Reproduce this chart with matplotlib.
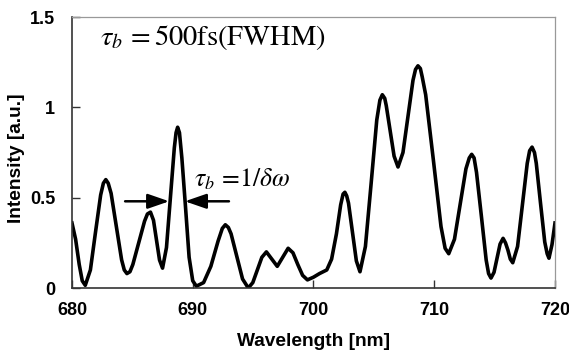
import matplotlib
matplotlib.use("Agg")
import matplotlib.pyplot as plt

plt.rcParams['mathtext.fontset'] = 'stix'

wavelength = [
    680.0, 680.3, 680.6, 680.85, 681.1,
    681.525, 681.95, 682.375, 682.6, 682.8, 683.0, 683.24, 683.675, 684.11, 684.33, 684.55,
    684.8, 685.04, 685.525, 686.01, 686.25, 686.5, 686.75, 687.0, 687.25, 687.5,
    687.825, 688.15, 688.475, 688.62, 688.75, 688.9, 689.1, 689.4, 689.7, 690.0, 690.3,
    690.9, 691.5, 692.1, 692.45, 692.7, 692.95, 693.175, 693.65, 694.125, 694.6,
    694.975, 695.35, 695.725, 696.1, 696.55, 697.0, 697.45, 697.9, 698.3, 698.7, 699.1, 699.5,
    700.0, 700.5, 701.1, 701.5, 701.9, 702.25, 702.45, 702.6, 702.75, 702.9, 703.225, 703.55, 703.85,
    704.3, 704.775, 705.24, 705.5, 705.7, 705.9, 706.025, 706.35, 706.675, 707.0,
    707.41, 707.825, 708.24, 708.45, 708.65, 708.85, 709.0, 709.29, 709.925, 710.56, 710.9, 711.2,
    711.675, 712.15, 712.625, 712.9, 713.1, 713.3, 713.5, 713.9, 714.3, 714.5, 714.7,
    714.95, 715.2, 715.45, 715.7, 715.9, 716.1, 716.3, 716.5,
    716.9, 717.3, 717.7, 717.9, 718.1, 718.3, 718.45, 718.8, 719.15, 719.35, 719.5, 719.75, 720.0,
]
intensity = [
    0.36, 0.27, 0.13, 0.04, 0.015,
    0.10, 0.31, 0.515, 0.58, 0.60, 0.58, 0.524, 0.34, 0.156, 0.10, 0.08,
    0.09, 0.13, 0.25, 0.37, 0.41, 0.42, 0.375, 0.265, 0.155, 0.11,
    0.224, 0.50, 0.776, 0.86, 0.89, 0.86, 0.72, 0.45, 0.17, 0.04, 0.01,
    0.03, 0.12, 0.26, 0.33, 0.35, 0.335, 0.30, 0.175, 0.05, 0.0,
    0.03, 0.10, 0.17, 0.20, 0.16, 0.12, 0.17, 0.22, 0.195, 0.13, 0.07, 0.045,
    0.06, 0.08, 0.10, 0.16, 0.30, 0.46, 0.52, 0.53, 0.51, 0.47, 0.31, 0.15, 0.09,
    0.23, 0.58, 0.93, 1.04, 1.07, 1.05, 1.01, 0.87, 0.73, 0.67,
    0.75, 0.95, 1.15, 1.21, 1.23, 1.215, 1.17, 1.07, 0.71, 0.34, 0.22, 0.19,
    0.27, 0.465, 0.66, 0.72, 0.74, 0.72, 0.64, 0.40, 0.155, 0.08, 0.055,
    0.087, 0.165, 0.243, 0.275, 0.25, 0.21, 0.16, 0.14,
    0.23, 0.46, 0.69, 0.76, 0.78, 0.75, 0.69, 0.47, 0.255, 0.19, 0.165, 0.24, 0.36,
]

xticks = [680, 690, 700, 710, 720]
yticks = [0, 0.5, 1, 1.5]
yticklabels = ['0', '0.5', '1', '1.5']

fig = plt.figure(figsize=(5.69, 3.55), dpi=100)
ax = fig.add_axes([0.1265, 0.1887, 0.8489, 0.7633])
ax.plot(wavelength, intensity, color='black', linewidth=2.6, solid_joinstyle='round')

ax.set_xlim(680, 720)
ax.set_ylim(0, 1.5)
ax.set_xticks(xticks)
ax.set_xticklabels([str(t) for t in xticks])
ax.set_yticks(yticks)
ax.set_yticklabels(yticklabels)

for lab in ax.get_xticklabels() + ax.get_yticklabels():
    lab.set_fontfamily('Liberation Sans')
    lab.set_fontsize(13)
    lab.set_fontweight('bold')
ax.tick_params(direction='in', length=6, width=1, color='#333333', pad=10)
ax.tick_params(axis='y', pad=12)

for s in ['left', 'bottom']:
    ax.spines[s].set_color('#333333')
    ax.spines[s].set_linewidth(1.2)
for s in ['top', 'right']:
    ax.spines[s].set_color('#999999')
    ax.spines[s].set_linewidth(0.9)
    ax.spines[s].set_linestyle((0, (4, 1)))

labelfont = dict(family='Liberation Sans', size=13.8, weight='bold')
ax.set_xlabel('Wavelength [nm]', fontdict=labelfont)
ax.set_ylabel('Intensity [a.u.]', fontdict=labelfont)
ax.xaxis.set_label_coords(0.5, -0.165)
ax.yaxis.set_label_coords(-0.097, 0.48)

ax.text(682.3, 1.385, r'$\tau_b\,=500\mathrm{fs(FWHM)}$', fontsize=20.5, va='center', ha='left')
ax.text(690.1, 0.6, r'$\tau_b\,=\!1/\delta\omega$', fontsize=18.5, va='center', ha='left')

arrow_y = 0.48
style = '-|>,head_length=1.3,head_width=0.45'
ax.annotate('', xy=(688.05, arrow_y), xytext=(684.4, arrow_y),
            arrowprops=dict(arrowstyle=style, color='black', lw=1.8, shrinkA=0, shrinkB=0))
ax.annotate('', xy=(689.35, arrow_y), xytext=(693.0, arrow_y),
            arrowprops=dict(arrowstyle=style, color='black', lw=1.8, shrinkA=0, shrinkB=0))

fig.savefig('out.png', dpi=100)
